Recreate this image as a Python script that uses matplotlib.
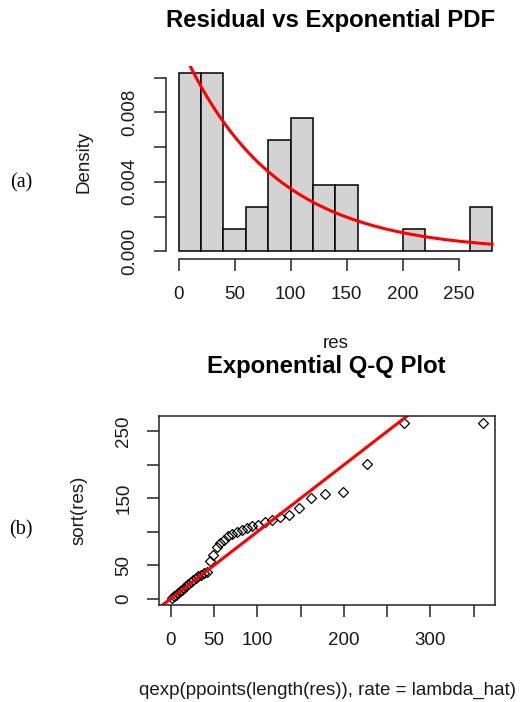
import numpy as np
import matplotlib.pyplot as plt

res = np.array([1.0, 3.5, 6.0, 8.5, 11.0, 13.5, 16.0, 18.5,
                22.5, 25.5, 28.0, 31.0, 33.5, 36.0, 38.0, 39.5,
                57.0, 66.0, 77.0, 83.0, 88.0, 93.0, 97.0, 99.5,
                103.0, 106.0, 108.0, 110.0, 114.0, 118.0,
                122.0, 125.0, 135.0, 150.0, 156.0, 159.0,
                201.0, 262.0, 263.0])
breaks = np.arange(0, 281, 20)

hist_xticks = [0, 50, 100, 150, 200, 250]
hist_yticks = [0.0, 0.002, 0.004, 0.006, 0.008, 0.010]
hist_ylabels = ['0.000', '', '0.004', '', '0.008', '']
qq_xticks = [0, 50, 100, 150, 200, 250, 300, 350]
qq_xlabels = ['0', '50', '100', '', '200', '', '300', '']
qq_yticks = [0, 50, 100, 150, 200, 250]
qq_ylabels = ['0', '50', '', '150', '', '250']

n = len(res)
lambda_hat = 1 / np.mean(res)

plt.rcParams['font.family'] = 'Liberation Sans'
txt = '#1a1a1a'
fs = 13.5

fig = plt.figure(figsize=(5.23, 7.02), dpi=100)


def r_range(lo, hi):
    d = hi - lo
    return lo - 0.04 * d, hi + 0.04 * d


### (a) histogram with exponential pdf ###
ax1 = fig.add_axes([166 / 523, 1 - 258.5 / 702, 338.7 / 523, 192.5 / 702])
counts, _, _ = ax1.hist(res, bins=breaks, density=True, color='#d3d3d3',
                        edgecolor='black', linewidth=1.1)
x = np.linspace(0, 280, 400)
ax1.plot(x, lambda_hat * np.exp(-lambda_hat * x), color='red', lw=2.2)

ax1.set_xlim(*r_range(breaks[0], breaks[-1]))
ax1.set_ylim(*r_range(0, counts.max()))
ax1.set_xticks(hist_xticks)
ax1.set_yticks(hist_yticks)
ax1.set_yticklabels(hist_ylabels)
for s in ['top', 'right']:
    ax1.spines[s].set_visible(False)
ax1.spines['bottom'].set_bounds(hist_xticks[0], hist_xticks[-1])
ax1.spines['left'].set_bounds(hist_yticks[0], hist_yticks[-1])

ax1.set_xlabel('res', fontsize=fs, color=txt)
ax1.set_ylabel('Density', fontsize=fs, color=txt)
ax1.xaxis.set_label_coords(0.5, (258.5 - 343) / 192.5)
ax1.xaxis.label.set_va('center')
ax1.yaxis.set_label_coords((84 - 166) / 338.7, 0.5)
ax1.yaxis.label.set_va('center')

### (b) exponential Q-Q plot ###
ax2 = fig.add_axes([159.3 / 523, 1 - 605 / 702, 335.7 / 523, 189.3 / 702])
pp = (np.arange(1, n + 1) - 0.5) / n
q = -np.log(1 - pp) / lambda_hat
ax2.plot(q, np.sort(res), 'D', mfc='none', mec='black', ms=5.4, mew=0.9)
ax2.axline((0, 0), slope=1, color='red', lw=2.2)

ax2.set_xlim(*r_range(q.min(), q.max()))
ax2.set_ylim(*r_range(res.min(), res.max()))
ax2.set_xticks(qq_xticks)
ax2.set_xticklabels(qq_xlabels)
ax2.set_yticks(qq_yticks)
ax2.set_yticklabels(qq_ylabels)

ax2.set_xlabel('qexp(ppoints(length(res)), rate = lambda_hat)', fontsize=fs, color=txt)
ax2.set_ylabel('sort(res)', fontsize=fs, color=txt)
ax2.xaxis.set_label_coords(0.5, (605 - 690) / 189.3)
ax2.xaxis.label.set_va('center')
ax2.yaxis.set_label_coords((79 - 159.3) / 335.7, 0.5)
ax2.yaxis.label.set_va('center')

for ax, pad in [(ax1, 11.5), (ax2, 10.8)]:
    for s in ax.spines.values():
        s.set_linewidth(1.1)
        s.set_color('#222222')
    ax.tick_params(length=8.6, width=1.1, color='#222222', labelsize=fs,
                   labelcolor=txt, pad=pad)
    ax.tick_params(axis='y', labelrotation=90)
    for lab in ax.get_yticklabels():
        lab.set_va('center')

fig.text(331 / 523, 1 - 21 / 702, 'Residual vs Exponential PDF', fontsize=17.2,
         fontweight='bold', ha='center', va='center', color='black')
fig.text(326 / 523, 1 - 367 / 702, 'Exponential Q-Q Plot', fontsize=17.2,
         fontweight='bold', ha='center', va='center', color='black')

fig.text(21 / 523, 1 - 183 / 702, '(a)', family='Liberation Serif', fontsize=14.5,
         ha='center', va='center')
fig.text(21 / 523, 1 - 530 / 702, '(b)', family='Liberation Serif', fontsize=14.5,
         ha='center', va='center')

fig.savefig('out.png', dpi=100)
